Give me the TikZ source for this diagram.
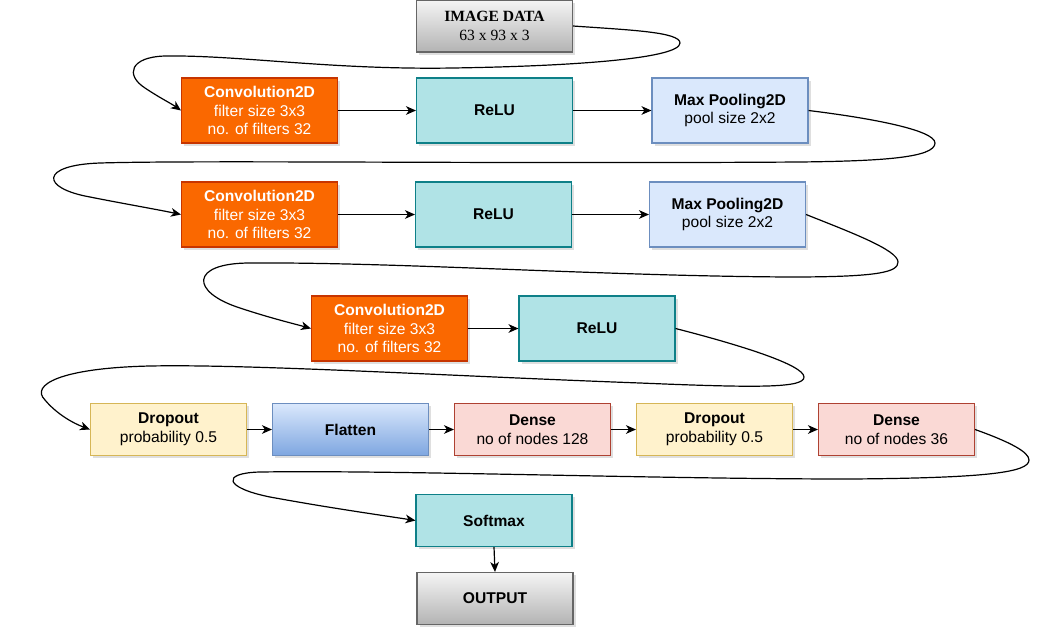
\documentclass[tikz,border=0pt]{standalone}
\usepackage{fontspec}
\setmainfont{Liberation Serif}
\setsansfont{Liberation Sans}
\usetikzlibrary{arrows.meta,shadows}
\definecolor{convfill}{HTML}{FA6800}
\definecolor{convdraw}{HTML}{C73500}
\definecolor{relufill}{HTML}{B0E3E6}
\definecolor{reludraw}{HTML}{0E8088}
\definecolor{poolfill}{HTML}{DAE8FC}
\definecolor{pooldraw}{HTML}{6C8EBF}
\definecolor{dropfill}{HTML}{FFF2CC}
\definecolor{dropdraw}{HTML}{D6B656}
\definecolor{densefill}{HTML}{FAD9D5}
\definecolor{densedraw}{HTML}{AE4132}
\definecolor{flatbot}{HTML}{7EA6E0}
\definecolor{greytop}{HTML}{F5F5F5}
\definecolor{greybot}{HTML}{B3B3B3}
\definecolor{greydraw}{HTML}{666666}
\tikzset{
  box/.style={rectangle, draw, line width=0.8pt, inner sep=0pt, align=center,
    minimum width=117pt, font=\sffamily\fontsize{11.7}{14}\selectfont,
    drop shadow={shadow xshift=2pt, shadow yshift=-2.2pt, opacity=0.25, fill=gray}},
  tall/.style={box, minimum height=48.75pt},
  short/.style={box, minimum height=39pt},
  convbox/.style={tall, fill=convfill, draw=convdraw, text=white},
  relubox/.style={tall, fill=relufill, draw=reludraw},
  poolbox/.style={tall, fill=poolfill, draw=pooldraw},
  dropbox/.style={short, fill=dropfill, draw=dropdraw},
  densebox/.style={short, fill=densefill, draw=densedraw},
  flatbox/.style={short, top color=poolfill, bottom color=flatbot, draw=pooldraw},
  softbox/.style={short, fill=relufill, draw=reludraw},
  greybox/.style={short, top color=greytop, bottom color=greybot, draw=greydraw},
  link/.style={line width=0.9pt, -{Stealth[length=7.5pt,width=6.5pt,inset=2.2pt]}}
}
\begin{document}
\begin{tikzpicture}[x=0.75pt, y=-0.75pt]
\useasboundingbox (0,0) rectangle (1058,629);
% nodes
\node[greybox, font=\rmfamily\fontsize{11.7}{14}\selectfont] (img) at (494.5,26) {\textbf{IMAGE DATA}\\63 x 93 x 3};
\node[convbox] (conv1) at (259.5,110.5) {\textbf{Convolution2D}\\filter size 3x3\\no. of filters 32};
\node[relubox] (relu1) at (494.5,110.5) {\textbf{ReLU}};
\node[poolbox] (pool1) at (730,110.5) {\textbf{Max Pooling2D}\\pool size 2x2};
\node[convbox] (conv2) at (259.5,214.5) {\textbf{Convolution2D}\\filter size 3x3\\no. of filters 32};
\node[relubox] (relu2) at (493.5,214.5) {\textbf{ReLU}};
\node[poolbox] (pool2) at (727.5,214.5) {\textbf{Max Pooling2D}\\pool size 2x2};
\node[convbox] (conv3) at (389.5,328.5) {\textbf{Convolution2D}\\filter size 3x3\\no. of filters 32};
\node[relubox] (relu3) at (597,328.5) {\textbf{ReLU}};
\node[dropbox] (drop1) at (168.5,429.5) {\textbf{Dropout}\\probability 0.5};
\node[flatbox] (flat) at (350.5,429.5) {\textbf{Flatten}};
\node[densebox] (dense1) at (532.5,429.5) {\textbf{Dense}\\no of nodes 128};
\node[dropbox] (drop2) at (714.5,429.5) {\textbf{Dropout}\\probability 0.5};
\node[densebox] (dense2) at (896.5,429.5) {\textbf{Dense}\\no of nodes 36};
\node[softbox] (soft) at (494,520.5) {\textbf{Softmax}};
\node[greybox] (out) at (495,598.5) {\textbf{OUTPUT}};
% straight links
\draw[link] (conv1.east) -- (relu1.west);
\draw[link] (relu1.east) -- (pool1.west);
\draw[link] (conv2.east) -- (relu2.west);
\draw[link] (relu2.east) -- (pool2.west);
\draw[link] (conv3.east) -- (relu3.west);
\draw[link] (drop1.east) -- (flat.west);
\draw[link] (flat.east) -- (dense1.west);
\draw[link] (dense1.east) -- (drop2.west);
\draw[link] (drop2.east) -- (dense2.west);
\draw[link] (soft.south) -- (out.north);
% curved links
\draw[link] (img.east) .. controls (630,30) and (680,32) .. (680,43)
  .. controls (680,58) and (580,66) .. (453,68)
  .. controls (330,70) and (240,55) .. (165,56)
  .. controls (130,57) and (125,75) .. (145,88)
  .. controls (160,98) and (172,104) .. (conv1.west);
\draw[link] (pool1.east) .. controls (870,118) and (935,130) .. (935,143)
  .. controls (935,158) and (880,161) .. (800,162)
  .. controls (500,164) and (200,160) .. (100,163)
  .. controls (40,165) and (40,188) .. (90,197)
  .. controls (120,203) and (160,210) .. (conv2.west);
\draw[link] (pool2.east) .. controls (850,232) and (898,250) .. (898,262)
  .. controls (898,272) and (880,277) .. (790,277)
  .. controls (600,276) and (400,262) .. (250,263)
  .. controls (190,263) and (190,292) .. (240,308)
  .. controls (270,318) and (295,324) .. (conv3.west);
\draw[link] (relu3.east) .. controls (740,345) and (804,365) .. (804,377)
  .. controls (804,388) and (760,388) .. (640,383)
  .. controls (450,376) and (250,364) .. (150,366)
  .. controls (60,368) and (30,385) .. (45,400)
  .. controls (55,412) and (70,422) .. (drop1.west);
\draw[link] (dense2.east) .. controls (1010,442) and (1029,452) .. (1029,460)
  .. controls (1029,472) and (990,478) .. (850,479)
  .. controls (650,479) and (400,470) .. (260,472)
  .. controls (220,473) and (225,488) .. (270,497)
  .. controls (330,508) and (380,515) .. (soft.west);
\end{tikzpicture}
\end{document}
